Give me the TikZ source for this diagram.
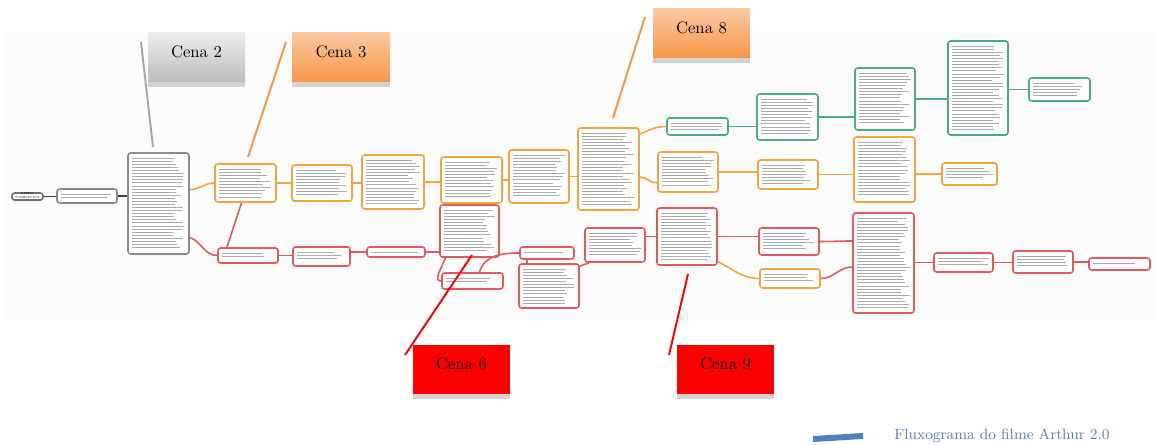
\documentclass[tikz,border=0pt]{standalone}
\usepackage{fontspec}
\usepackage{tikz}
\usetikzlibrary{calc,fit}

\definecolor{mapgray}{HTML}{8A8A8A}
\definecolor{maporange}{HTML}{F2A53A}
\definecolor{mapred}{HTML}{E2595E}
\definecolor{mapgreen}{HTML}{45B07E}
\definecolor{cenagraytop}{HTML}{EDEDED}
\definecolor{cenagraybot}{HTML}{BCBCBC}
\definecolor{cenapeach}{HTML}{FAC9A2}
\definecolor{cenaorange}{HTML}{F79646}
\definecolor{titleblue}{HTML}{4F81BD}

\tikzset{
    textline/.style={gray!65, line width=0.55pt},
    txt/.style={path picture={
        \pgfpointdiff{\pgfpointanchor{path picture bounding box}{north west}}{\pgfpointanchor{path picture bounding box}{south east}}
        \pgfgetlastxy{\boxw}{\boxh}
        \pgfmathtruncatemacro\nlines{max(1,(-\boxh-4pt)/1.75pt)}
        \foreach \k in {1,...,\nlines}
            \draw[textline] ([shift={(2.2pt,{-1.3pt-\k*1.75pt})}]path picture bounding box.north west) -- ++({\boxw-4.4pt-7pt*rnd},0pt);
    }},
    mapbox/.style={draw, fill=white, rounded corners=1.5pt, line width=0.9pt, inner sep=0pt},
    gbox/.style={mapbox, txt, draw=mapgray},
    obox/.style={mapbox, txt, draw=maporange},
    rbox/.style={mapbox, txt, draw=mapred},
    grbox/.style={mapbox, txt, draw=mapgreen},
    gcon/.style={line width=0.9pt, draw=black!75},
    ocon/.style={line width=0.9pt, draw=maporange},
    rcon/.style={line width=0.9pt, draw=mapred},
    grcon/.style={line width=0.9pt, draw=mapgreen},
    cena/.style={inner sep=0pt, font=\fontsize{9.5}{10}\selectfont},
    pointer/.style={line width=1.1pt},
}

\begin{document}
\begin{tikzpicture}[x=0.02cm, y=-0.02cm]
    \pgfmathsetseed{7}
    \useasboundingbox (0,0) rectangle (1157,445);
    % screenshot of the mind map
    \fill[gray!3] (5,33) rectangle (1157,320);

    % gray start of the line
    \node[mapbox, draw=mapgray!80!black, fit={(12,193) (43,200)}, font=\fontsize{1.7}{2}\selectfont] (narr) {LINHA NARRATIVA};
    \foreach \nm/\xa/\ya/\xb/\yb in {g1/57/189/117/203, g2/128/153/189/254}
        \node[gbox, fit={(\xa,\ya) (\xb,\yb)}] (\nm) {};

    % orange boxes
    \foreach \nm/\xa/\ya/\xb/\yb in {o1/215/164/276/202, o2/292/165/352/201, o3/362/155/424/209,
            o4/441/157/502/203, o5/509/150/569/203, o6/578/128/639/210, o7/658/152/718/192,
            o8/758/160/818/189, o9/854/137/915/202, o10/942/163/997/185, o11/760/269/820/288}
        \node[obox, fit={(\xa,\ya) (\xb,\yb)}] (\nm) {};

    % red boxes
    \foreach \nm/\xa/\ya/\xb/\yb in {r1/218/248/278/263, r2/293/247/350/266, r3/367/247/425/257,
            r4/440/205/499/257, r5/442/273/503/289, r6/520/247/574/259, r7/519/264/579/308,
            r8/585/228/645/262, r9/657/208/717/265, r10/759/228/819/255, r11/853/213/914/313,
            r12/934/253/993/272, r13/1013/251/1073/273, r14/1089/258/1150/270}
        \node[rbox, fit={(\xa,\ya) (\xb,\yb)}] (\nm) {};

    % green boxes
    \foreach \nm/\xa/\ya/\xb/\yb in {v1/667/118/728/135, v2/757/94/818/140, v3/855/68/915/130,
            v4/948/41/1008/135, v5/1029/78/1090/101}
        \node[grbox, fit={(\xa,\ya) (\xb,\yb)}] (\nm) {};

    % connectors
    \draw[gcon] (narr.east) -- (narr.east -| g1.west);
    \draw[gcon] (g1.east) -- (g1.east -| g2.west);
    \draw[ocon] ($(g2.east)+(0,-14)$) to[out=0,in=180] (o1.west);
    \draw[rcon] ($(g2.east)+(0,34)$) to[out=-20,in=180] (r1.west);
    \draw[rcon] ($(o1.south)+(-4,0)$) -- ($(r1.north)+(-21,0)$);
    \draw[ocon] (o1.east) -- (o1.east -| o2.west);
    \draw[ocon] (o2.east) -- (o2.east -| o3.west);
    \draw[ocon] (o3.east) -- (o3.east -| o4.west);
    \draw[ocon] (o4.east) -- (o4.east -| o5.west);
    \draw[ocon] (o5.east) -- (o5.east -| o6.west);
    \draw[ocon] ($(o6.north east)+(0,7)$) to[out=25,in=180] (v1.west);
    \draw[ocon] ($(o6.east)+(0,8)$) to[out=0,in=180] ($(o7.west)+(0,11)$);
    \draw[ocon] (o7.east) -- (o7.east -| o8.west);
    \draw[ocon] (o8.east) -- (o8.east -| o9.west);
    \draw[ocon] (o10.west -| o9.east) -- (o10.west);
    \draw[grcon] (v1.east) -- (v1.east -| v2.west);
    \draw[grcon] (v2.east) -- (v2.east -| v3.west);
    \draw[grcon] (v3.east) -- (v3.east -| v4.west);
    \draw[grcon] (v5.west -| v4.east) -- (v5.west);
    \draw[rcon] (r1.east) -- (r1.east -| r2.west);
    \draw[rcon] (r3.west -| r2.east) -- (r3.west);
    \draw[rcon] (r3.east) -- (r3.east -| r4.west);
    \draw[rcon] ($(r4.south west)+(6,0)$) to[out=-105,in=180] (r5.west);
    \draw[rcon] ($(r5.north)+(7,0)$) to[out=75,in=180] (r6.west);
    \draw[rcon] ($(r6.south west)+(8,0)$) -- ($(r7.north west)+(9,0)$);
    \draw[rcon] ($(r8.south west)+(5,0)$) -- ($(r7.north east)+(0,3)$);
    \draw[rcon] (r9.west -| r8.east) -- (r9.west);
    \draw[rcon] (r9.east) -- (r9.east -| r10.west);
    \draw[ocon] ($(r9.south east)+(0,-4)$) to[out=-25,in=180] (o11.west);
    \draw[rcon] (r10.east) to[out=0,in=180] ($(r11.west)+(0,-22)$);
    \draw[rcon] (o11.east) to[out=0,in=180] ($(r11.west)+(0,4)$);
    \draw[rcon] (r12.west -| r11.east) -- (r12.west);
    \draw[rcon] (r12.east) -- (r12.east -| r13.west);
    \draw[rcon] (r13.east) -- (r13.east -| r14.west);

    % scene labels
    \node[cena, top color=cenagraytop, bottom color=cenagraybot, fit={(148,33) (245,82)}] (cena2) {Cena 2};
    \node[cena, top color=cenapeach, bottom color=cenaorange, fit={(292,33) (390,82)}] (cena3) {Cena 3};
    \node[cena, top color=cenapeach, bottom color=cenaorange, fit={(653,9) (750,58)}] (cena8) {Cena 8};
    \node[cena, fill=red, fit={(413,345) (510,394)}] (cena6) {Cena 6};
    \node[cena, fill=red, fit={(677,345) (774,394)}] (cena9) {Cena 9};
    \foreach \c in {cena2,cena3,cena8,cena6,cena9}
        \fill[gray!35] (\c.south west) rectangle ($(\c.south east)+(0,5)$);

    % pointers from the labels
    \coordinate (p2a) at (141,42);  \coordinate (p2b) at (153,147);
    \coordinate (p3a) at (286,42);  \coordinate (p3b) at (248,157);
    \coordinate (p8a) at (645,17);  \coordinate (p8b) at (613,118);
    \coordinate (p6a) at (472,255); \coordinate (p6b) at (405,355);
    \coordinate (p9a) at (688,274); \coordinate (p9b) at (669,355);
    \draw[pointer, draw=gray!70] (p2a) -- (p2b);
    \draw[pointer, draw=cenaorange] (p3a) -- (p3b);
    \draw[pointer, draw=cenaorange] (p8a) -- (p8b);
    \draw[pointer, draw=red] (p6a) -- (p6b);
    \draw[pointer, draw=red] (p9a) -- (p9b);

    % title
    \fill[titleblue] (813,436) -- (863,433) -- (863,439) -- (813,442) -- cycle;
    \node[anchor=base west, inner sep=0pt, text=titleblue, font=\fontsize{8.5}{10}\selectfont] (title) at (894,440) {Fluxograma do filme Arthur 2.0};
\end{tikzpicture}
\end{document}
